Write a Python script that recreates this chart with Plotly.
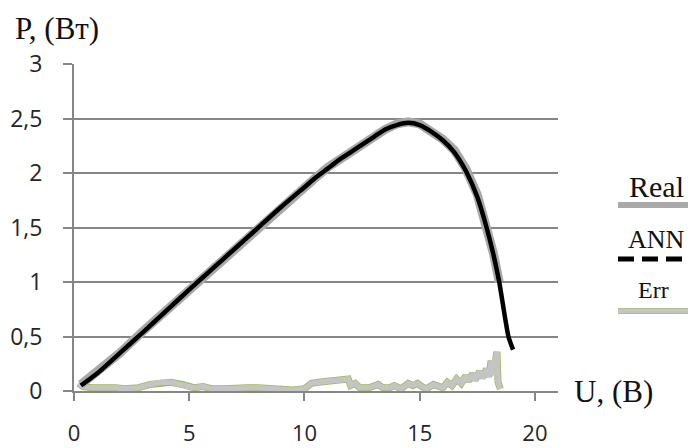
import plotly.graph_objects as go

# ---------------- data ----------------
u_ann = [0.3, 1, 2, 3, 4, 5, 6, 7, 8, 9, 10, 10.5, 11, 11.5, 12, 12.5, 13, 13.5,
         14, 14.5, 15, 15.5, 16, 16.5, 17, 17.5, 17.9, 18.2, 18.45, 18.85, 19.05]
p_ann = [0.05, 0.16, 0.35, 0.54, 0.735, 0.93, 1.12, 1.31, 1.50, 1.69, 1.87, 1.96,
         2.04, 2.12, 2.19, 2.26, 2.33, 2.40, 2.44, 2.46, 2.44, 2.38, 2.30, 2.19,
         2.02, 1.78, 1.50, 1.25, 1.00, 0.50, 0.38]

u_real = [0.3, 1, 2, 3, 4, 5, 6, 7, 8, 9, 10, 10.5, 11, 11.5, 12, 12.5, 13, 13.5,
          14, 14.5, 15, 15.5, 16, 16.5, 17, 17.5, 17.9, 18.2, 18.45]
p_real = [0.06, 0.17, 0.35, 0.55, 0.74, 0.93, 1.12, 1.31, 1.51, 1.69, 1.88, 1.96,
          2.05, 2.12, 2.20, 2.27, 2.34, 2.40, 2.45, 2.47, 2.45, 2.39, 2.31, 2.21,
          2.04, 1.80, 1.52, 1.26, 1.00]

u_err = [0.2, 0.4, 0.8, 1.2, 1.5, 1.8, 2.2, 2.8, 3.3, 3.8, 4.2, 4.7, 5.2, 5.6, 6.0,
         6.5, 7.0, 7.5, 8.0, 8.5, 9.0, 9.5, 10.0, 10.3, 10.6, 11.0, 11.5, 11.9, 12.0,
         12.2, 12.4, 12.8, 13.2, 13.4, 13.7, 13.9, 14.2, 14.5, 14.7, 14.9, 15.1, 15.3,
         15.6, 15.8, 16.0, 16.2, 16.4, 16.6, 16.8, 17.0, 17.1, 17.3, 17.4, 17.6, 17.7,
         17.9, 18.0, 18.1, 18.2, 18.35, 18.4, 18.5]
p_err = [0.07, 0.04, 0.03, 0.03, 0.04, 0.03, 0.02, 0.03, 0.06, 0.08, 0.08, 0.06, 0.03,
         0.04, 0.02, 0.02, 0.03, 0.03, 0.03, 0.02, 0.02, 0.01, 0.02, 0.07, 0.08, 0.09,
         0.10, 0.11, 0.05, 0.07, 0.03, 0.03, 0.06, 0.03, 0.03, 0.05, 0.02, 0.07, 0.05,
         0.07, 0.04, 0.02, 0.06, 0.05, 0.03, 0.08, 0.05, 0.11, 0.07, 0.14, 0.09, 0.16,
         0.10, 0.18, 0.12, 0.20, 0.13, 0.28, 0.15, 0.36, 0.08, 0.02]

x_tickvals = [0, 5, 10, 15, 20]
x_ticktext = ["0", "5", "10", "15", "20"]
y_tickvals = [0, 0.5, 1, 1.5, 2, 2.5, 3]
y_ticktext = ["0", "0,5", "1", "1,5", "2", "2,5", "3"]

legend_names = ["Real", "ANN", "Err"]

# ---------------- layout helpers ----------------
# the page body has an 8px margin, so the figure is drawn 8px smaller
OFF = 8
W, H = 696 - OFF, 448 - OFF
L, T = 74 - OFF, 64 - OFF
R = W - (558 - OFF)
B = H - (391 - OFF)
PW, PH = W - L - R, H - T - B


def px(x):
    return (x - OFF - L) / PW


def py(y):
    return (H - B - (y - OFF)) / PH


GRID = "#868686"
fig = go.Figure()

# Err: green edge under grey body
fig.add_trace(go.Scatter(x=u_err, y=p_err, mode="lines",
                         line=dict(color="#9bbb59", width=7), hoverinfo="skip",
                         showlegend=False))
fig.add_trace(go.Scatter(x=u_err, y=p_err, mode="lines", name="Err",
                         line=dict(color="#c4c4c4", width=5.5), showlegend=False))
fig.add_trace(go.Scatter(x=u_real, y=p_real, mode="lines", name="Real",
                         line=dict(color="#a9a9a9", width=9), showlegend=False))
fig.add_trace(go.Scatter(x=u_ann, y=p_ann, mode="lines", name="ANN",
                         line=dict(color="#000000", width=4.5, shape="spline",
                                   smoothing=0.6), showlegend=False))

ytickfont = dict(family="Open Sans", size=23, color="#262626")
xtickfont = dict(family="Open Sans", size=22, color="#262626")
fig.update_layout(
    width=W, height=H,
    margin=dict(l=L, r=R, t=T, b=B, autoexpand=False),
    paper_bgcolor="white", plot_bgcolor="white",
    xaxis=dict(range=[0, 21], tickvals=x_tickvals, ticktext=x_ticktext,
               showgrid=False, zeroline=False, showline=True, linecolor=GRID,
               linewidth=2, ticks="outside", ticklen=8, tickwidth=2, automargin=False,
               tickcolor=GRID, tickfont=xtickfont, ticklabelstandoff=14),
    yaxis=dict(range=[0, 3], tickvals=y_tickvals, ticktext=y_ticktext,
               showgrid=True, gridcolor=GRID, gridwidth=2, zeroline=False,
               showline=True, linecolor=GRID, linewidth=2, ticks="outside",
               ticklen=9, tickwidth=2, tickcolor=GRID, tickfont=ytickfont,
               ticklabelstandoff=16, automargin=False),
    showlegend=False,
)

serif = "Liberation Serif"
ann = [
    dict(text="P, (Вт)", x=px(57), y=py(28), size=31),
    dict(text="U, (В)", x=px(613), y=py(392), size=31),
    dict(text=legend_names[0], x=px(656), y=py(186), size=30),
    dict(text=legend_names[1], x=px(656), y=py(240), size=26),
    dict(text=legend_names[2], x=px(653), y=py(290), size=24),
]
for a in ann:
    fig.add_annotation(text=a["text"], x=a["x"], y=a["y"], xref="paper", yref="paper",
                       xanchor="center", yanchor="middle", showarrow=False,
                       font=dict(family=serif, size=a["size"], color="#111111"))

# legend sample lines
fig.add_shape(type="line", xref="paper", yref="paper", x0=px(618), x1=px(700),
              y0=py(205), y1=py(205), line=dict(color="#a9a9a9", width=6))
fig.add_shape(type="line", xref="paper", yref="paper", x0=px(618), x1=px(700),
              y0=py(259), y1=py(259), line=dict(color="#000000", width=5, dash="16px,8px"))
fig.add_shape(type="line", xref="paper", yref="paper", x0=px(618), x1=px(700),
              y0=py(311), y1=py(311), line=dict(color="#9bbb59", width=6))
fig.add_shape(type="line", xref="paper", yref="paper", x0=px(618), x1=px(700),
              y0=py(311), y1=py(311), line=dict(color="#c4c4c4", width=5))

fig.write_html("out.html")
